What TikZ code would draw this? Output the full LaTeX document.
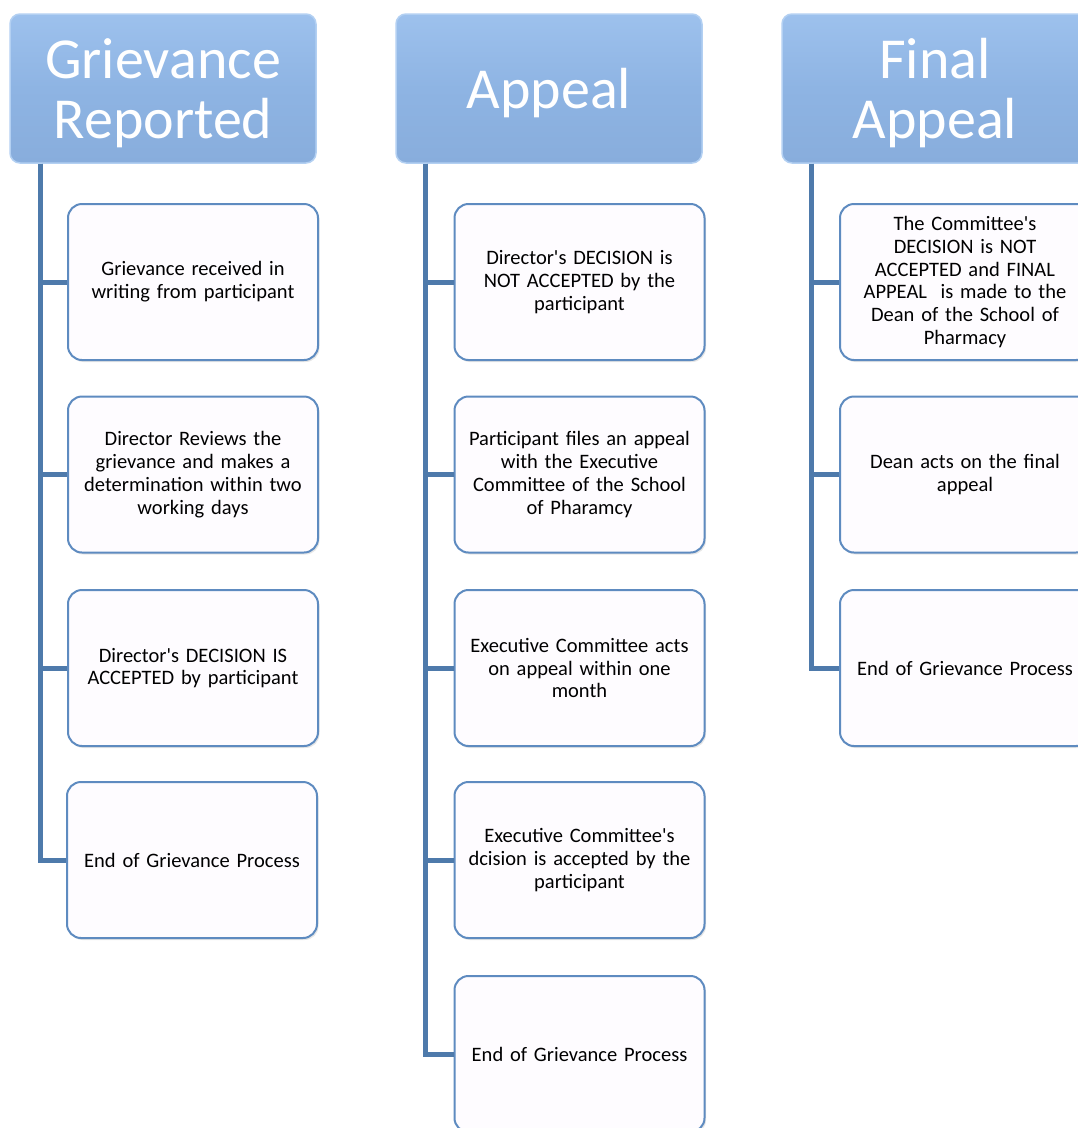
\documentclass[tikz,border=0pt]{standalone}
\usepackage{fontspec}
\setmainfont{Carlito}
\usetikzlibrary{shadows,calc}
\definecolor{hdrtop}{HTML}{9DC1ED}
\definecolor{hdrmid}{HTML}{8EB4E3}
\definecolor{hdrbot}{HTML}{88ADDC}
\definecolor{hdredge}{HTML}{B3D0F2}
\definecolor{boxfill}{HTML}{FEFCFF}
\definecolor{boxedge}{HTML}{5E8BC0}
\definecolor{conncol}{HTML}{4E7AAB}
\newcommand{\apo}{\textquotesingle}
\begin{document}
\begin{tikzpicture}[x=1pt,y=-1pt,
  header/.style={rectangle, rounded corners=10pt, minimum width=306pt, minimum height=149pt,
    top color=hdrtop, bottom color=hdrbot, middle color=hdrmid, draw=hdredge, line width=1.5pt,
    inner sep=0pt},
  headtext/.style={text=white, font=\fontsize{58}{60}\selectfont, align=center, inner sep=0pt},
  stepbox/.style={rectangle, rounded corners=14pt, minimum width=250pt, minimum height=156pt,
    fill=boxfill, draw=boxedge, line width=2pt, text width=244pt, align=center,
    font=\fontsize{20.5}{22.8}\selectfont, inner sep=0pt,
    drop shadow={shadow xshift=1.5pt, shadow yshift=-2pt, opacity=0.2}},
  conn/.style={draw=conncol, line width=5pt}]
\useasboundingbox (0,0) rectangle (1078,1128);
\clip (0,0) rectangle (1078,1128);

% headers
\node[header] (h1) at (163,88.5) {};
\node[header] (h2) at (549,88.5) {};
\node[header] (h3) at (935,88.5) {};
\node[headtext] (t1) at ($(h1.center)+(0,5)$) {Grievance\\Reported};
\node[headtext] (t2) at ($(h2.center)+(0,5)$) {Appeal};
\node[headtext] (t3) at ($(h3.center)+(0,5)$) {Final\\Appeal};

% column 1
\node[stepbox] (a1) at (193,282) {Grievance received in\\writing from participant};
\node[stepbox] (a2) at (193,474.5) {Director Reviews the\\grievance and makes a\\determination within two\\working days};
\node[stepbox] (a3) at (193,668) {Director\apo s DECISION IS\\ACCEPTED by participant};
\node[stepbox] (a4) at (192,860) {End of Grievance Process};

% column 2
\node[stepbox] (b1) at (579.5,282) {Director\apo s DECISION is\\NOT ACCEPTED by the\\participant};
\node[stepbox] (b2) at (579.5,474.5) {Participant files an appeal\\with the Executive\\Committee of the School\\of Pharamcy};
\node[stepbox] (b3) at (579.5,668) {Executive Committee acts\\on appeal within one\\month};
\node[stepbox] (b4) at (579.5,860) {Executive Committee\apo s\\dcision is accepted by the\\participant};
\node[stepbox] (b5) at (579.5,1054) {End of Grievance Process};

% column 3
\node[stepbox] (c1) at (965,282) {The Committee\apo s\\DECISION is NOT\\ACCEPTED and FINAL\\APPEAL\ \ is made to the\\Dean of the School of\\Pharmacy};
\node[stepbox] (c2) at (965,474.5) {Dean acts on the final\\appeal};
\node[stepbox] (c3) at (965,668) {End of Grievance Process};

% spine coordinates
\coordinate (s1) at (40,0);
\coordinate (s2) at (425,0);
\coordinate (s3) at (811,0);

% connectors
\foreach \b in {a1,a2,a3,a4} \draw[conn] (h1.south -| s1) |- (\b.west);
\foreach \b in {b1,b2,b3,b4,b5} \draw[conn] (h2.south -| s2) |- (\b.west);
\foreach \b in {c1,c2,c3} \draw[conn] (h3.south -| s3) |- (\b.west);
\end{tikzpicture}
\end{document}
